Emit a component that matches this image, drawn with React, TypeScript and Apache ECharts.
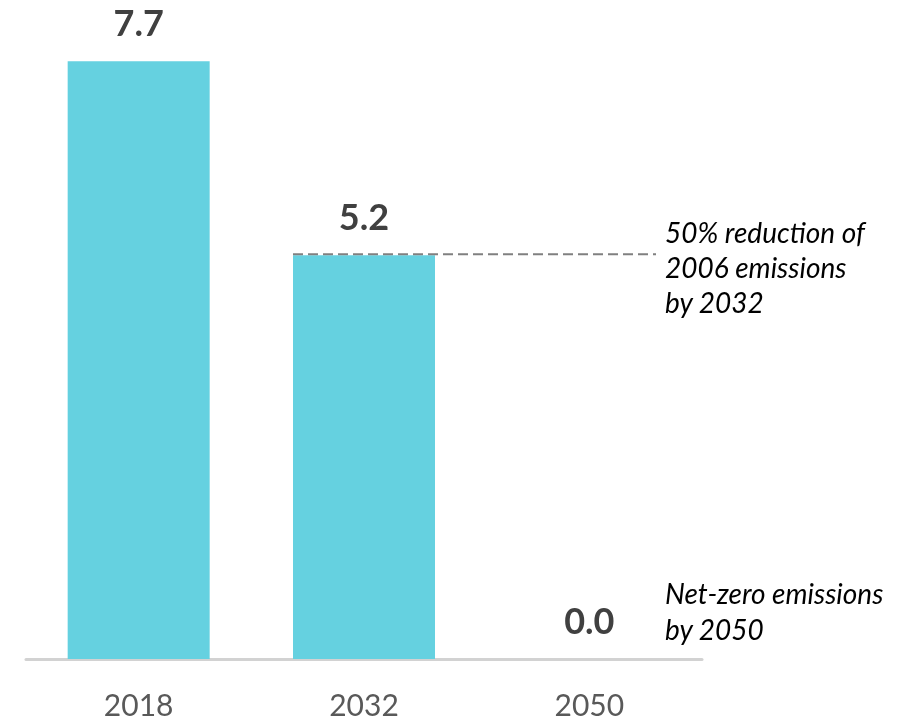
import React, { useEffect, useRef } from 'react';
import * as echarts from 'echarts';

const years = ['2018', '2032', '2050'];
const emissions = [7.7, 5.2, 0.0];
const targetYear = '2032';
const targetValue = 5.2;
const targetNote = ['50% reduction of', '2006 emissions', 'by 2032'];
const netZeroNote = ['Net-zero emissions', 'by 2050'];

const BAR_WIDTH = 142;

export default function App() {
  const ref = useRef<HTMLDivElement>(null);
  useEffect(() => {
    const chart = echarts.init(ref.current!, null, { renderer: 'svg' });
    chart.setOption({
      animation: false,
      grid: { left: 26, right: 205, top: 38, bottom: 62 },
      xAxis: {
        type: 'category',
        data: years,
        axisLine: { lineStyle: { color: '#d2d2d2', width: 3 } },
        axisTick: { show: false },
        axisLabel: { color: '#595959', fontFamily: 'Lato', fontSize: 30, margin: 30 },
      },
      yAxis: { type: 'value', min: 0, max: 8, show: false },
      series: [
        {
          type: 'bar',
          data: emissions,
          barWidth: BAR_WIDTH,
          itemStyle: { color: '#65d1e0' },
          label: {
            show: true,
            position: 'top',
            distance: 21,
            formatter: (p: any) => Number(p.value).toFixed(1),
            fontFamily: 'Lato',
            fontWeight: 'bold',
            fontSize: 36,
            color: '#404040',
          },
        },
      ],
    });
    const pt = chart.convertToPixel({ gridIndex: 0 }, [targetYear, targetValue]) as number[];
    const zero = chart.convertToPixel({ gridIndex: 0 }, [years[2], 0]) as number[];
    chart.setOption({
      graphic: [
        {
          type: 'line',
          shape: { x1: pt[0] - BAR_WIDTH / 2, y1: pt[1] - 1, x2: 656, y2: pt[1] - 1 },
          style: { stroke: '#808080', lineWidth: 2, lineDash: [10, 5] },
          z: 10,
        },
        {
          type: 'text',
          left: 665,
          top: pt[1] - 41,
          style: {
            text: targetNote.join('\n'),
            font: 'italic 28px Lato',
            fill: '#000000',
            lineHeight: 35,
          },
        },
        {
          type: 'text',
          left: 665,
          top: zero[1] - 84,
          style: {
            text: netZeroNote.join('\n'),
            font: 'italic 28px Lato',
            fill: '#000000',
            lineHeight: 36,
          },
        },
      ],
    });
    return () => chart.dispose();
  }, []);
  return <div ref={ref} style={{ position: 'fixed', left: 0, top: 0, width: 907, height: 721 }} />;
}
